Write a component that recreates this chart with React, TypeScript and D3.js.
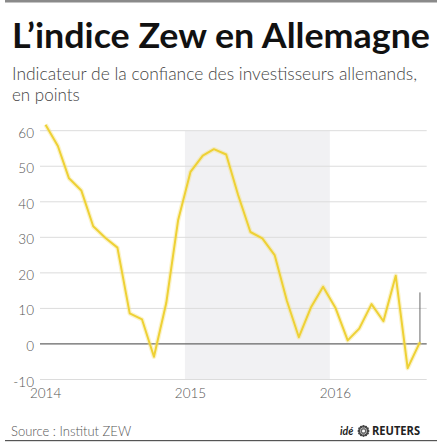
import React, { useRef, useEffect } from 'react';
import * as d3 from 'd3';

// Indice ZEW mensuel, janv. 2014 -> août 2016
const months: string[] = [
  '2014-01', '2014-02', '2014-03', '2014-04', '2014-05', '2014-06',
  '2014-07', '2014-08', '2014-09', '2014-10', '2014-11', '2014-12',
  '2015-01', '2015-02', '2015-03', '2015-04', '2015-05', '2015-06',
  '2015-07', '2015-08', '2015-09', '2015-10', '2015-11', '2015-12',
  '2016-01', '2016-02', '2016-03', '2016-04', '2016-05', '2016-06',
  '2016-07', '2016-08',
];
const zew: number[] = [
  61.7, 55.7, 46.6, 43.2, 33.1, 29.8, 27.1, 8.6, 6.9, -3.6, 11.5, 34.9,
  48.4, 53.0, 54.8, 53.3, 41.9, 31.5, 29.7, 25.0, 12.1, 1.9, 10.4, 16.1,
  10.2, 1.0, 4.3, 11.2, 6.4, 19.2, -6.8, 0.5,
];
const yTicks: number[] = [-10, 0, 10, 20, 30, 40, 50, 60];
const yearLabels: string[] = ['2014', '2015', '2016'];
const shadedYear = '2015';
const markerTop = 14.5;

export default function App() {
  const svgRef = useRef<SVGSVGElement>(null);

  useEffect(() => {
    const svg = d3.select(svgRef.current);
    svg.selectAll('*').remove();

    const width = 442;
    const height = 443;

    const parse = d3.timeParse('%Y-%m-%d');
    const data = months.map((m, i) => ({ date: parse(m + '-15') as Date, value: zew[i] }));

    const x = d3
      .scaleTime()
      .domain([new Date(2014, 0, 1), new Date(2016, 8, 1)])
      .range([40, 426.7]);
    const y = d3.scaleLinear().domain([-10, 60]).range([379.5, 130.7]);

    svg.attr('width', width).attr('height', height);

    // frame lines
    svg.append('rect').attr('x', 5).attr('y', 0).attr('width', 432).attr('height', 2.5).attr('fill', '#8a8a8a');
    svg.append('rect').attr('x', 5).attr('y', 440).attr('width', 432).attr('height', 1.2).attr('fill', '#555');

    // titles
    svg.append('text')
      .attr('x', 12).attr('y', 48)
      .attr('font-family', 'Lato, "Open Sans", sans-serif')
      .attr('font-weight', 700)
      .attr('font-size', 34)
      .attr('fill', '#111')
      .attr('textLength', 418)
      .attr('lengthAdjust', 'spacingAndGlyphs')
      .text('L’indice Zew en Allemagne');

    svg.append('text')
      .attr('x', 12).attr('y', 80)
      .attr('font-family', 'Lato, "Open Sans", sans-serif')
      .attr('font-weight', 300)
      .attr('font-size', 17)
      .attr('fill', '#444')
      .attr('textLength', 405)
      .attr('lengthAdjust', 'spacingAndGlyphs')
      .text('Indicateur de la confiance des investisseurs allemands,');
    svg.append('text')
      .attr('x', 12).attr('y', 101)
      .attr('font-family', 'Lato, "Open Sans", sans-serif')
      .attr('font-weight', 300)
      .attr('font-size', 17)
      .attr('fill', '#444')
      .text('en points');

    // shaded year
    const sy = +shadedYear;
    svg.append('rect')
      .attr('x', x(new Date(sy, 0, 1)))
      .attr('y', y(60))
      .attr('width', x(new Date(sy + 1, 0, 1)) - x(new Date(sy, 0, 1)))
      .attr('height', y(-10) - y(60))
      .attr('fill', '#f1f1f3');

    // grid
    const [x0, x1] = x.range();
    svg.append('g')
      .selectAll('line')
      .data(yTicks)
      .join('line')
      .attr('x1', x0).attr('x2', x1)
      .attr('y1', (d) => y(d)).attr('y2', (d) => y(d))
      .attr('stroke', (d) => (d === 0 ? '#666' : '#dcdcdc'))
      .attr('stroke-width', (d) => (d === 0 ? 1.2 : 1));

    svg.append('g')
      .selectAll('text')
      .data(yTicks)
      .join('text')
      .attr('x', 34)
      .attr('y', (d) => y(d) + 7)
      .attr('text-anchor', 'end')
      .attr('font-family', 'Lato, "Open Sans", sans-serif')
      .attr('font-weight', 300)
      .attr('font-size', 13.5)
      .attr('fill', '#555')
      .text((d) => d);

    svg.append('g')
      .selectAll('text')
      .data(yearLabels)
      .join('text')
      .attr('x', (d) => x(new Date(+d, 0, 15)))
      .attr('y', 398)
      .attr('text-anchor', 'middle')
      .attr('font-family', 'Lato, "Open Sans", sans-serif')
      .attr('font-weight', 300)
      .attr('font-size', 13.5)
      .attr('fill', '#555')
      .text((d) => d);

    // marker line at last point
    const last = data[data.length - 1];
    svg.append('line')
      .attr('x1', x(last.date)).attr('x2', x(last.date))
      .attr('y1', y(0)).attr('y2', y(markerTop))
      .attr('stroke', '#666')
      .attr('stroke-width', 1);

    // line
    const line = d3
      .line<{ date: Date; value: number }>()
      .x((d) => x(d.date))
      .y((d) => y(d.value));

    svg.append('path')
      .datum(data)
      .attr('d', line)
      .attr('fill', 'none')
      .attr('stroke', '#f5e27a')
      .attr('stroke-opacity', 0.4)
      .attr('stroke-width', 4.5)
      .attr('stroke-linejoin', 'round');
    svg.append('path')
      .datum(data)
      .attr('d', line)
      .attr('fill', 'none')
      .attr('stroke', '#eed135')
      .attr('stroke-width', 2)
      .attr('stroke-linejoin', 'round');

    // footer
    svg.append('text')
      .attr('x', 11).attr('y', 436)
      .attr('font-family', 'Lato, "Open Sans", sans-serif')
      .attr('font-weight', 300)
      .attr('font-size', 13)
      .attr('fill', '#555')
      .text('Source : Institut ZEW');

    svg.append('text')
      .attr('x', 340).attr('y', 435)
      .attr('font-family', 'Lato, "Open Sans", sans-serif')
      .attr('font-weight', 700)
      .attr('font-style', 'italic')
      .attr('font-size', 10.5)
      .attr('fill', '#222')
      .text('idé');

    const logo = svg.append('g').attr('transform', 'translate(363.5,431)');
    d3.range(12).forEach((i) => {
      const a = (i / 12) * Math.PI * 2;
      logo.append('circle')
        .attr('cx', Math.cos(a) * 4.6)
        .attr('cy', Math.sin(a) * 4.6)
        .attr('r', 1.35)
        .attr('fill', '#444');
      logo.append('circle')
        .attr('cx', Math.cos(a + 0.26) * 2.3)
        .attr('cy', Math.sin(a + 0.26) * 2.3)
        .attr('r', 0.85)
        .attr('fill', '#666');
    });

    svg.append('text')
      .attr('x', 372).attr('y', 435)
      .attr('font-family', '"Open Sans", Lato, sans-serif')
      .attr('font-weight', 700)
      .attr('font-size', 11.5)
      .attr('fill', '#222')
      .attr('textLength', 48)
      .attr('lengthAdjust', 'spacingAndGlyphs')
      .text('REUTERS');
  }, []);

  return (
    <div style={{ position: 'absolute', left: 0, top: 0, background: '#fff' }}>
      <svg ref={svgRef} style={{ display: 'block' }} />
    </div>
  );
}
